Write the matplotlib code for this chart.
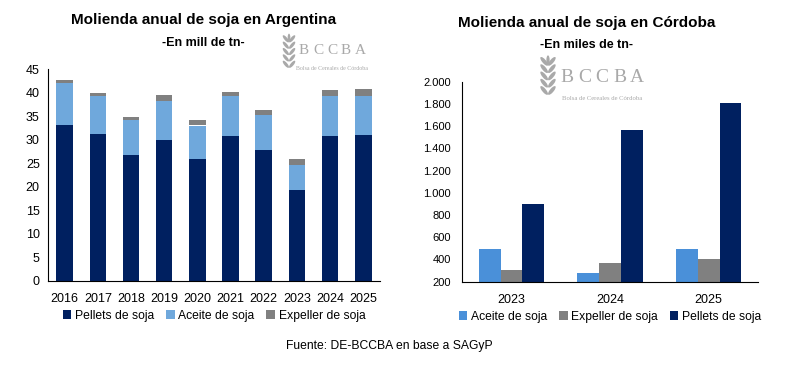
import numpy as np
import matplotlib.pyplot as plt
from matplotlib.patches import Ellipse
from matplotlib.transforms import IdentityTransform

# Argentina, millones de tn
years_arg = ["2016", "2017", "2018", "2019", "2020", "2021", "2022", "2023", "2024", "2025"]
pellets_arg = [33.2, 31.1, 26.8, 30.0, 25.9, 30.7, 27.7, 19.3, 30.7, 30.9]
aceite_arg = [8.8, 8.1, 7.3, 8.1, 7.1, 8.5, 7.5, 5.4, 8.5, 8.3]
expeller_arg = [0.6, 0.7, 0.8, 1.3, 1.1, 0.9, 1.0, 1.2, 1.3, 1.5]

# Córdoba, miles de tn
years_cba = ["2023", "2024", "2025"]
aceite_cba = [494, 278, 495]
expeller_cba = [305, 368, 404]
pellets_cba = [899, 1565, 1808]

c_pellets = "#002060"
c_aceite_l = "#6FA8DC"
c_aceite_r = "#4A90D9"
c_expeller = "#808080"
logo_c = "#a9a9a9"

plt.rcParams['font.family'] = ['Liberation Sans', 'DejaVu Sans']

fig = plt.figure(figsize=(7.94, 3.75), dpi=100)
H = 375


def logo(xl, yc, size, spacing, sub_y, sub_size, wx, wy0, wy1, leaf):
    # letters (pixel coords, y from top)
    for i, ch in enumerate("BCCBA"):
        fig.text((xl + i * spacing) / 794, 1 - yc / H, ch, ha="center", va="center",
                 fontsize=size, family="Liberation Serif", color=logo_c)
    fig.text((xl + 2 * spacing) / 794, 1 - sub_y / H, "Bolsa de Cereales de Córdoba",
             ha="center", va="center", fontsize=sub_size, family="Liberation Serif",
             color=logo_c)
    # wheat sprig
    n = 5
    for k in range(n):
        yy = H - (wy0 + (wy1 - wy0) * (k + 0.6) / (n + 0.5))
        for sgn in (-1, 1):
            e = Ellipse((wx + sgn * leaf * 0.35, yy), leaf * 0.35, leaf, angle=-sgn * 40,
                        transform=IdentityTransform(), color=logo_c, lw=0)
            fig.patches.append(e)
    top = Ellipse((wx, H - wy0 - leaf * 0.3), leaf * 0.3, leaf * 0.9,
                  transform=IdentityTransform(), color=logo_c, lw=0)
    fig.patches.append(top)


# ---- left: Argentina (stacked)
ax1 = fig.add_axes([0.0605, 0.251, 0.418, 0.565])
x = np.arange(len(years_arg))
w = 0.5
b1 = np.array(pellets_arg)
b2 = b1 + np.array(aceite_arg)
ax1.bar(x, pellets_arg, w, color=c_pellets, label="Pellets de soja")
ax1.bar(x, aceite_arg, w, bottom=b1, color=c_aceite_l, label="Aceite de soja")
ax1.bar(x, expeller_arg, w, bottom=b2, color=c_expeller, label="Expeller de soja")
ax1.set_xlim(-0.5, 9.5)
ax1.set_ylim(0, 45)
ax1.set_yticks(range(0, 46, 5))
ax1.set_xticks(x)
ax1.set_xticklabels(years_arg)
ax1.tick_params(axis="y", length=0, labelsize=9, pad=6)
ax1.tick_params(axis="x", length=0, labelsize=9, pad=9)
for s in ["top", "right"]:
    ax1.spines[s].set_visible(False)
ax1.legend(loc="upper center", bbox_to_anchor=(0.5, -0.085), ncol=3, frameon=False,
           fontsize=8.7, handlelength=0.7, handleheight=0.7, handletextpad=0.3,
           columnspacing=1.0)

# ---- right: Córdoba (grouped)
ax2 = fig.add_axes([0.5819, 0.2488, 0.3728, 0.533])
xc = np.arange(len(years_cba))
wc = 0.22
ax2.bar(xc - wc, aceite_cba, wc, color=c_aceite_r, label="Aceite de soja")
ax2.bar(xc, expeller_cba, wc, color=c_expeller, label="Expeller de soja")
ax2.bar(xc + wc, pellets_cba, wc, color=c_pellets, label="Pellets de soja")
ax2.set_xlim(-0.5, 2.5)
ax2.set_ylim(200, 2000)
ax2.set_yticks(range(200, 2001, 200))
ax2.set_yticklabels([f"{v:,}".replace(",", ".") for v in range(200, 2001, 200)])
ax2.set_xticks(xc)
ax2.set_xticklabels(years_cba)
ax2.tick_params(axis="y", length=0, labelsize=8, pad=8)
ax2.tick_params(axis="x", length=0, labelsize=9, pad=9)
for s in ["top", "right"]:
    ax2.spines[s].set_visible(False)
ax2.legend(loc="upper center", bbox_to_anchor=(0.5, -0.09), ncol=3, frameon=False,
           fontsize=8.7, handlelength=0.7, handleheight=0.7, handletextpad=0.3,
           columnspacing=1.0)

# ---- titles
fig.text(0.256, 0.947, "Molienda anual de soja en Argentina", ha="center", va="center",
         fontsize=11, fontweight="bold")
fig.text(0.256, 0.886, "-En mill de tn-", ha="center", va="center",
         fontsize=9, fontweight="bold")
fig.text(0.739, 0.938, "Molienda anual de soja en Córdoba", ha="center", va="center",
         fontsize=11, fontweight="bold")
fig.text(0.739, 0.881, "-En miles de tn-", ha="center", va="center",
         fontsize=9, fontweight="bold")

# ---- watermark logos
logo(304, 51, 11, 14, 69, 4.2, 289, 35, 70, 9)
logo(567, 78, 14, 17.5, 98, 4.8, 548, 57, 97, 11)

fig.text(0.49, 0.077, "Fuente: DE-BCCBA en base a SAGyP", ha="center", va="center",
         fontsize=8.7)

fig.savefig("out.png", dpi=100)
